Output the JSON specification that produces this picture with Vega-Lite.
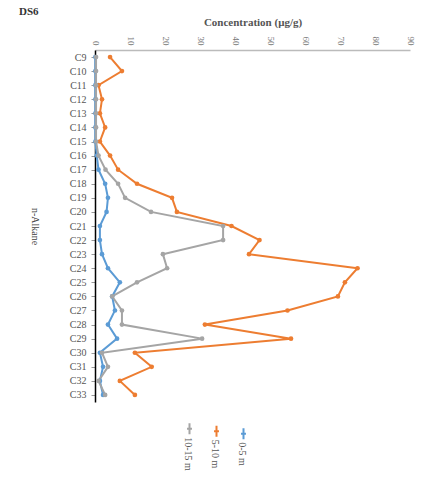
{
  "$schema": "https://vega.github.io/schema/vega-lite/v6.json",
  "autosize": "none",
  "width": 315,
  "height": 352,
  "padding": {"left": 95, "top": 50, "right": 16, "bottom": 101},
  "background": "white",
  "title": {
    "text": "DS6",
    "anchor": "start",
    "frame": "group",
    "dx": -76,
    "dy": 5,
    "font": "Liberation Serif",
    "fontSize": 11,
    "fontWeight": "bold",
    "color": "#333333"
  },
  "config": {
    "view": {"stroke": null},
    "font": "Liberation Serif"
  },
  "data": {
    "values": [
      {"alkane": "C9", "depth": "0-5 m", "conc": 0.1},
      {"alkane": "C10", "depth": "0-5 m", "conc": 0.1},
      {"alkane": "C11", "depth": "0-5 m", "conc": 0.1},
      {"alkane": "C12", "depth": "0-5 m", "conc": 0.1},
      {"alkane": "C13", "depth": "0-5 m", "conc": 0.1},
      {"alkane": "C14", "depth": "0-5 m", "conc": 0.1},
      {"alkane": "C15", "depth": "0-5 m", "conc": 0.1},
      {"alkane": "C16", "depth": "0-5 m", "conc": 0.5},
      {"alkane": "C17", "depth": "0-5 m", "conc": 1.0},
      {"alkane": "C18", "depth": "0-5 m", "conc": 2.9},
      {"alkane": "C19", "depth": "0-5 m", "conc": 3.7},
      {"alkane": "C20", "depth": "0-5 m", "conc": 3.3},
      {"alkane": "C21", "depth": "0-5 m", "conc": 1.4},
      {"alkane": "C22", "depth": "0-5 m", "conc": 1.4},
      {"alkane": "C23", "depth": "0-5 m", "conc": 2.0},
      {"alkane": "C24", "depth": "0-5 m", "conc": 3.7},
      {"alkane": "C25", "depth": "0-5 m", "conc": 7.1},
      {"alkane": "C26", "depth": "0-5 m", "conc": 4.9},
      {"alkane": "C27", "depth": "0-5 m", "conc": 5.7},
      {"alkane": "C28", "depth": "0-5 m", "conc": 3.7},
      {"alkane": "C29", "depth": "0-5 m", "conc": 6.3},
      {"alkane": "C30", "depth": "0-5 m", "conc": 1.4},
      {"alkane": "C31", "depth": "0-5 m", "conc": 2.3},
      {"alkane": "C32", "depth": "0-5 m", "conc": 1.4},
      {"alkane": "C33", "depth": "0-5 m", "conc": 2.3},

      {"alkane": "C9", "depth": "5-10 m", "conc": 4.3},
      {"alkane": "C10", "depth": "5-10 m", "conc": 7.7},
      {"alkane": "C11", "depth": "5-10 m", "conc": 1.0},
      {"alkane": "C12", "depth": "5-10 m", "conc": 2.0},
      {"alkane": "C13", "depth": "5-10 m", "conc": 1.4},
      {"alkane": "C14", "depth": "5-10 m", "conc": 2.9},
      {"alkane": "C15", "depth": "5-10 m", "conc": 1.4},
      {"alkane": "C16", "depth": "5-10 m", "conc": 4.3},
      {"alkane": "C17", "depth": "5-10 m", "conc": 6.6},
      {"alkane": "C18", "depth": "5-10 m", "conc": 12.0},
      {"alkane": "C19", "depth": "5-10 m", "conc": 22.0},
      {"alkane": "C20", "depth": "5-10 m", "conc": 23.4},
      {"alkane": "C21", "depth": "5-10 m", "conc": 39.0},
      {"alkane": "C22", "depth": "5-10 m", "conc": 47.0},
      {"alkane": "C23", "depth": "5-10 m", "conc": 44.0},
      {"alkane": "C24", "depth": "5-10 m", "conc": 75.0},
      {"alkane": "C25", "depth": "5-10 m", "conc": 71.4},
      {"alkane": "C26", "depth": "5-10 m", "conc": 69.4},
      {"alkane": "C27", "depth": "5-10 m", "conc": 55.0},
      {"alkane": "C28", "depth": "5-10 m", "conc": 31.4},
      {"alkane": "C29", "depth": "5-10 m", "conc": 56.0},
      {"alkane": "C30", "depth": "5-10 m", "conc": 11.4},
      {"alkane": "C31", "depth": "5-10 m", "conc": 16.2},
      {"alkane": "C32", "depth": "5-10 m", "conc": 7.1},
      {"alkane": "C33", "depth": "5-10 m", "conc": 11.4},

      {"alkane": "C9", "depth": "10-15 m", "conc": 0.3},
      {"alkane": "C10", "depth": "10-15 m", "conc": 0.3},
      {"alkane": "C11", "depth": "10-15 m", "conc": 0.3},
      {"alkane": "C12", "depth": "10-15 m", "conc": 0.3},
      {"alkane": "C13", "depth": "10-15 m", "conc": 0.3},
      {"alkane": "C14", "depth": "10-15 m", "conc": 0.3},
      {"alkane": "C15", "depth": "10-15 m", "conc": 0.3},
      {"alkane": "C16", "depth": "10-15 m", "conc": 1.0},
      {"alkane": "C17", "depth": "10-15 m", "conc": 3.0},
      {"alkane": "C18", "depth": "10-15 m", "conc": 6.6},
      {"alkane": "C19", "depth": "10-15 m", "conc": 8.6},
      {"alkane": "C20", "depth": "10-15 m", "conc": 16.0},
      {"alkane": "C21", "depth": "10-15 m", "conc": 36.6},
      {"alkane": "C22", "depth": "10-15 m", "conc": 36.6},
      {"alkane": "C23", "depth": "10-15 m", "conc": 19.4},
      {"alkane": "C24", "depth": "10-15 m", "conc": 20.6},
      {"alkane": "C25", "depth": "10-15 m", "conc": 12.0},
      {"alkane": "C26", "depth": "10-15 m", "conc": 4.9},
      {"alkane": "C27", "depth": "10-15 m", "conc": 7.7},
      {"alkane": "C28", "depth": "10-15 m", "conc": 7.7},
      {"alkane": "C29", "depth": "10-15 m", "conc": 30.6},
      {"alkane": "C30", "depth": "10-15 m", "conc": 2.0},
      {"alkane": "C31", "depth": "10-15 m", "conc": 3.7},
      {"alkane": "C32", "depth": "10-15 m", "conc": 1.0},
      {"alkane": "C33", "depth": "10-15 m", "conc": 2.9}
    ]
  },
  "mark": {
    "type": "line",
    "strokeWidth": 2,
    "point": {"filled": true, "size": 22}
  },
  "encoding": {
    "y": {
      "field": "alkane",
      "type": "ordinal",
      "sort": ["C9","C10","C11","C12","C13","C14","C15","C16","C17","C18","C19","C20","C21","C22","C23","C24","C25","C26","C27","C28","C29","C30","C31","C32","C33"],
      "scale": {"type": "point", "padding": 0.5},
      "axis": {
        "title": "n-Alkane",
        "titleAngle": 90,
        "titleFont": "Liberation Serif",
        "titleFontSize": 10,
        "titleFontWeight": "normal",
        "titleColor": "#444444",
        "titlePadding": 40,
        "labelFont": "Liberation Serif",
        "labelFontSize": 10,
        "labelColor": "#555555",
        "labelPadding": 5,
        "domainColor": "#000000",
        "domainWidth": 1.5,
        "tickColor": "#999999",
        "tickSize": 4,
        "grid": false
      }
    },
    "x": {
      "field": "conc",
      "type": "quantitative",
      "scale": {"domain": [0, 90], "nice": false},
      "axis": {
        "orient": "top",
        "title": "Concentration (μg/g)",
        "titleFont": "Liberation Serif",
        "titleFontSize": 11,
        "titleFontWeight": "bold",
        "titleColor": "#555555",
        "titlePadding": 9,
        "values": [0, 10, 20, 30, 40, 50, 60, 70, 80, 90],
        "labelAngle": 90,
        "labelFont": "Liberation Serif",
        "labelFontSize": 9,
        "labelColor": "#777777",
        "labelPadding": 5,
        "domainColor": "#bbbbbb",
        "domainWidth": 1.5,
        "ticks": false,
        "grid": false
      }
    },
    "color": {
      "field": "depth",
      "type": "nominal",
      "scale": {
        "domain": ["10-15 m", "5-10 m", "0-5 m"],
        "range": ["#a5a5a5", "#ed7d31", "#5b9bd5"]
      },
      "legend": {
        "title": null,
        "orient": "none",
        "legendX": 88,
        "legendY": 372,
        "direction": "horizontal",
        "symbolType": "M0,-1V1M-0.45,0H0.45",
        "symbolSize": 120,
        "symbolStrokeWidth": 2,
        "labelFont": "Liberation Serif",
        "labelFontSize": 10,
        "labelColor": "#555555",
        "columnPadding": 14,
        "encode": {
          "labels": {
            "update": {
              "angle": {"value": 90},
              "align": {"value": "left"},
              "baseline": {"value": "middle"},
              "x": {"value": 5},
              "y": {"value": 15}
            }
          }
        }
      }
    }
  }
}
